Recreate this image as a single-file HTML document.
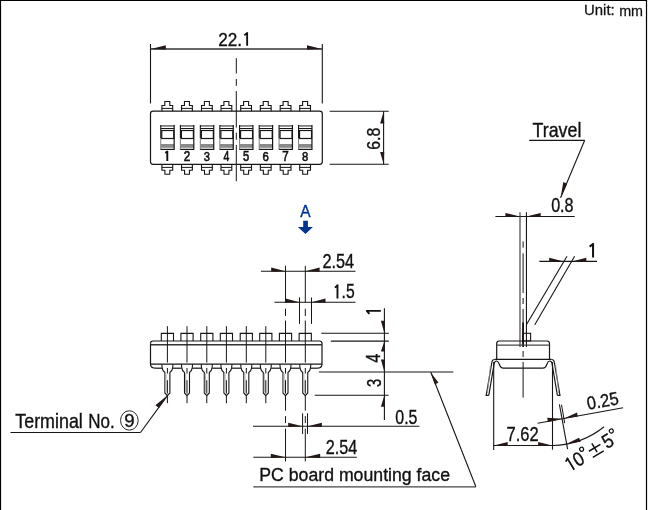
<!DOCTYPE html>
<html><head><meta charset="utf-8"><style>
html,body{margin:0;padding:0;background:#fff;}
svg{display:block;will-change:transform;}
text{font-family:"Liberation Sans",sans-serif;}
</style></head><body>
<svg width="649" height="510" viewBox="0 0 649 510">
<rect width="649" height="510" fill="#fff"/>
<line x1="0.00" y1="0.50" x2="647.00" y2="0.50" stroke="#000" stroke-width="1.2" />
<line x1="0.50" y1="0.00" x2="0.50" y2="510.00" stroke="#000" stroke-width="1.2" />
<line x1="646.50" y1="0.00" x2="646.50" y2="510.00" stroke="#000" stroke-width="1.2" />
<text transform="translate(584.08,15.46) scale(1.054,1)" font-size="14.15" fill="#111" stroke="#111" stroke-width="0.25">Unit:</text>
<text transform="translate(619.17,15.60) scale(1.006,1)" font-size="14.26" fill="#111" stroke="#111" stroke-width="0.25">mm</text>
<line x1="150.50" y1="44.00" x2="150.50" y2="103.50" stroke="#161616" stroke-width="1.1" />
<line x1="322.30" y1="44.00" x2="322.30" y2="103.50" stroke="#161616" stroke-width="1.1" />
<line x1="150.50" y1="49.00" x2="322.30" y2="49.00" stroke="#333" stroke-width="1.3" />
<polygon points="150.80,49.00 165.80,45.20 165.80,49.60" fill="#231815"/>
<polygon points="322.00,49.00 307.00,45.20 307.00,49.60" fill="#231815"/>
<text transform="translate(218.24,45.70) scale(0.896,1)" font-size="19.14" fill="#111" stroke="#111" stroke-width="0.35">2</text>
<text transform="translate(227.77,45.70) scale(0.896,1)" font-size="19.14" fill="#111" stroke="#111" stroke-width="0.35">2</text>
<text transform="translate(237.31,45.70) scale(0.896,1)" font-size="19.14" fill="#111" stroke="#111" stroke-width="0.35">.</text>
<path d="M247.15,45.70 V32.30 M247.70,32.67 L244.30,35.25" stroke="#111" stroke-width="1.842500000000001" fill="none"/>
<path d="M150.5,113.7 Q150.5,111.2 153,111.2 H319.8 Q322.3,111.2 322.3,113.7 V161.8 Q322.3,164.3 319.8,164.3 H153 Q150.5,164.3 150.5,161.8 Z" stroke="#161616" stroke-width="1.2" fill="none" />
<path d="M161.90,111.2 V105.5 H164.80 V101.5 H169.80 V105.5 H172.70 V111.2" stroke="#161616" stroke-width="1.1" fill="none" />
<line x1="161.90" y1="108.40" x2="172.70" y2="108.40" stroke="#161616" stroke-width="1.0" />
<path d="M161.90,164.3 V170.3 H164.90 V174.3 H169.80 V170.3 H172.70 V164.3" stroke="#161616" stroke-width="1.1" fill="none" />
<line x1="161.90" y1="167.40" x2="172.70" y2="167.40" stroke="#161616" stroke-width="1.0" />
<rect x="160.75" y="125.0" width="13.40" height="1.8" fill="#808080"/>
<rect x="160.75" y="144.0" width="13.40" height="3.8" fill="#8a8a8a"/>
<line x1="160.75" y1="125.00" x2="160.75" y2="138.00" stroke="#161616" stroke-width="1.1" />
<line x1="160.75" y1="138.00" x2="160.75" y2="150.00" stroke="#888" stroke-width="1.1" />
<line x1="174.15" y1="125.00" x2="174.15" y2="150.00" stroke="#161616" stroke-width="1.2" />
<line x1="160.75" y1="149.40" x2="174.15" y2="149.40" stroke="#161616" stroke-width="1.2" />
<line x1="160.75" y1="128.50" x2="174.15" y2="128.50" stroke="#161616" stroke-width="1.0" />
<rect x="161.75" y="130.5" width="12.0" height="8.0" fill="none" stroke="#161616" stroke-width="1.2"/>
<path d="M167.30,160.90 V150.90 M167.87,151.28 L165.30,152.90" stroke="#111" stroke-width="1.9" fill="none"/>
<path d="M181.55,111.2 V105.5 H184.45 V101.5 H189.45 V105.5 H192.35 V111.2" stroke="#161616" stroke-width="1.1" fill="none" />
<line x1="181.55" y1="108.40" x2="192.35" y2="108.40" stroke="#161616" stroke-width="1.0" />
<path d="M181.55,164.3 V170.3 H184.55 V174.3 H189.45 V170.3 H192.35 V164.3" stroke="#161616" stroke-width="1.1" fill="none" />
<line x1="181.55" y1="167.40" x2="192.35" y2="167.40" stroke="#161616" stroke-width="1.0" />
<rect x="180.40" y="125.0" width="13.40" height="1.8" fill="#808080"/>
<rect x="180.40" y="144.0" width="13.40" height="3.8" fill="#8a8a8a"/>
<line x1="180.40" y1="125.00" x2="180.40" y2="138.00" stroke="#161616" stroke-width="1.1" />
<line x1="180.40" y1="138.00" x2="180.40" y2="150.00" stroke="#888" stroke-width="1.1" />
<line x1="193.80" y1="125.00" x2="193.80" y2="150.00" stroke="#161616" stroke-width="1.2" />
<line x1="180.40" y1="149.40" x2="193.80" y2="149.40" stroke="#161616" stroke-width="1.2" />
<line x1="180.40" y1="128.50" x2="193.80" y2="128.50" stroke="#161616" stroke-width="1.0" />
<rect x="181.40" y="130.5" width="12.0" height="8.0" fill="none" stroke="#161616" stroke-width="1.2"/>
<text transform="translate(183.72,160.80) scale(0.841,1)" font-size="13.86" fill="#111" stroke="#111" stroke-width="0.6">2</text>
<path d="M201.50,111.2 V105.5 H204.40 V101.5 H209.40 V105.5 H212.30 V111.2" stroke="#161616" stroke-width="1.1" fill="none" />
<line x1="201.50" y1="108.40" x2="212.30" y2="108.40" stroke="#161616" stroke-width="1.0" />
<path d="M201.50,164.3 V170.3 H204.50 V174.3 H209.40 V170.3 H212.30 V164.3" stroke="#161616" stroke-width="1.1" fill="none" />
<line x1="201.50" y1="167.40" x2="212.30" y2="167.40" stroke="#161616" stroke-width="1.0" />
<rect x="200.35" y="125.0" width="13.40" height="1.8" fill="#808080"/>
<rect x="200.35" y="144.0" width="13.40" height="3.8" fill="#8a8a8a"/>
<line x1="200.35" y1="125.00" x2="200.35" y2="138.00" stroke="#161616" stroke-width="1.1" />
<line x1="200.35" y1="138.00" x2="200.35" y2="150.00" stroke="#888" stroke-width="1.1" />
<line x1="213.75" y1="125.00" x2="213.75" y2="150.00" stroke="#161616" stroke-width="1.2" />
<line x1="200.35" y1="149.40" x2="213.75" y2="149.40" stroke="#161616" stroke-width="1.2" />
<line x1="200.35" y1="128.50" x2="213.75" y2="128.50" stroke="#161616" stroke-width="1.0" />
<rect x="201.35" y="130.5" width="12.0" height="8.0" fill="none" stroke="#161616" stroke-width="1.2"/>
<text transform="translate(203.80,160.66) scale(0.817,1)" font-size="13.66" fill="#111" stroke="#111" stroke-width="0.6">3</text>
<path d="M221.00,111.2 V105.5 H223.90 V101.5 H228.90 V105.5 H231.80 V111.2" stroke="#161616" stroke-width="1.1" fill="none" />
<line x1="221.00" y1="108.40" x2="231.80" y2="108.40" stroke="#161616" stroke-width="1.0" />
<path d="M221.00,164.3 V170.3 H224.00 V174.3 H228.90 V170.3 H231.80 V164.3" stroke="#161616" stroke-width="1.1" fill="none" />
<line x1="221.00" y1="167.40" x2="231.80" y2="167.40" stroke="#161616" stroke-width="1.0" />
<rect x="219.85" y="125.0" width="13.40" height="1.8" fill="#808080"/>
<rect x="219.85" y="144.0" width="13.40" height="3.8" fill="#8a8a8a"/>
<line x1="219.85" y1="125.00" x2="219.85" y2="138.00" stroke="#161616" stroke-width="1.1" />
<line x1="219.85" y1="138.00" x2="219.85" y2="150.00" stroke="#888" stroke-width="1.1" />
<line x1="233.25" y1="125.00" x2="233.25" y2="150.00" stroke="#161616" stroke-width="1.2" />
<line x1="219.85" y1="149.40" x2="233.25" y2="149.40" stroke="#161616" stroke-width="1.2" />
<line x1="219.85" y1="128.50" x2="233.25" y2="128.50" stroke="#161616" stroke-width="1.0" />
<rect x="220.85" y="130.5" width="12.0" height="8.0" fill="none" stroke="#161616" stroke-width="1.2"/>
<text transform="translate(223.54,160.80) scale(0.747,1)" font-size="14.06" fill="#111" stroke="#111" stroke-width="0.6">4</text>
<path d="M240.70,111.2 V105.5 H243.60 V101.5 H248.60 V105.5 H251.50 V111.2" stroke="#161616" stroke-width="1.1" fill="none" />
<line x1="240.70" y1="108.40" x2="251.50" y2="108.40" stroke="#161616" stroke-width="1.0" />
<path d="M240.70,164.3 V170.3 H243.70 V174.3 H248.60 V170.3 H251.50 V164.3" stroke="#161616" stroke-width="1.1" fill="none" />
<line x1="240.70" y1="167.40" x2="251.50" y2="167.40" stroke="#161616" stroke-width="1.0" />
<rect x="239.55" y="125.0" width="13.40" height="1.8" fill="#808080"/>
<rect x="239.55" y="144.0" width="13.40" height="3.8" fill="#8a8a8a"/>
<line x1="239.55" y1="125.00" x2="239.55" y2="138.00" stroke="#161616" stroke-width="1.1" />
<line x1="239.55" y1="138.00" x2="239.55" y2="150.00" stroke="#888" stroke-width="1.1" />
<line x1="252.95" y1="125.00" x2="252.95" y2="150.00" stroke="#161616" stroke-width="1.2" />
<line x1="239.55" y1="149.40" x2="252.95" y2="149.40" stroke="#161616" stroke-width="1.2" />
<line x1="239.55" y1="128.50" x2="252.95" y2="128.50" stroke="#161616" stroke-width="1.0" />
<rect x="240.55" y="130.5" width="12.0" height="8.0" fill="none" stroke="#161616" stroke-width="1.2"/>
<text transform="translate(243.00,160.66) scale(0.805,1)" font-size="13.86" fill="#111" stroke="#111" stroke-width="0.6">5</text>
<path d="M260.35,111.2 V105.5 H263.25 V101.5 H268.25 V105.5 H271.15 V111.2" stroke="#161616" stroke-width="1.1" fill="none" />
<line x1="260.35" y1="108.40" x2="271.15" y2="108.40" stroke="#161616" stroke-width="1.0" />
<path d="M260.35,164.3 V170.3 H263.35 V174.3 H268.25 V170.3 H271.15 V164.3" stroke="#161616" stroke-width="1.1" fill="none" />
<line x1="260.35" y1="167.40" x2="271.15" y2="167.40" stroke="#161616" stroke-width="1.0" />
<rect x="259.20" y="125.0" width="13.40" height="1.8" fill="#808080"/>
<rect x="259.20" y="144.0" width="13.40" height="3.8" fill="#8a8a8a"/>
<line x1="259.20" y1="125.00" x2="259.20" y2="138.00" stroke="#161616" stroke-width="1.1" />
<line x1="259.20" y1="138.00" x2="259.20" y2="150.00" stroke="#888" stroke-width="1.1" />
<line x1="272.60" y1="125.00" x2="272.60" y2="150.00" stroke="#161616" stroke-width="1.2" />
<line x1="259.20" y1="149.40" x2="272.60" y2="149.40" stroke="#161616" stroke-width="1.2" />
<line x1="259.20" y1="128.50" x2="272.60" y2="128.50" stroke="#161616" stroke-width="1.0" />
<rect x="260.20" y="130.5" width="12.0" height="8.0" fill="none" stroke="#161616" stroke-width="1.2"/>
<text transform="translate(262.53,160.66) scale(0.834,1)" font-size="13.66" fill="#111" stroke="#111" stroke-width="0.6">6</text>
<path d="M280.20,111.2 V105.5 H283.10 V101.5 H288.10 V105.5 H291.00 V111.2" stroke="#161616" stroke-width="1.1" fill="none" />
<line x1="280.20" y1="108.40" x2="291.00" y2="108.40" stroke="#161616" stroke-width="1.0" />
<path d="M280.20,164.3 V170.3 H283.20 V174.3 H288.10 V170.3 H291.00 V164.3" stroke="#161616" stroke-width="1.1" fill="none" />
<line x1="280.20" y1="167.40" x2="291.00" y2="167.40" stroke="#161616" stroke-width="1.0" />
<rect x="279.05" y="125.0" width="13.40" height="1.8" fill="#808080"/>
<rect x="279.05" y="144.0" width="13.40" height="3.8" fill="#8a8a8a"/>
<line x1="279.05" y1="125.00" x2="279.05" y2="138.00" stroke="#161616" stroke-width="1.1" />
<line x1="279.05" y1="138.00" x2="279.05" y2="150.00" stroke="#888" stroke-width="1.1" />
<line x1="292.45" y1="125.00" x2="292.45" y2="150.00" stroke="#161616" stroke-width="1.2" />
<line x1="279.05" y1="149.40" x2="292.45" y2="149.40" stroke="#161616" stroke-width="1.2" />
<line x1="279.05" y1="128.50" x2="292.45" y2="128.50" stroke="#161616" stroke-width="1.0" />
<rect x="280.05" y="130.5" width="12.0" height="8.0" fill="none" stroke="#161616" stroke-width="1.2"/>
<text transform="translate(282.37,160.80) scale(0.829,1)" font-size="14.06" fill="#111" stroke="#111" stroke-width="0.6">7</text>
<path d="M299.70,111.2 V105.5 H302.60 V101.5 H307.60 V105.5 H310.50 V111.2" stroke="#161616" stroke-width="1.1" fill="none" />
<line x1="299.70" y1="108.40" x2="310.50" y2="108.40" stroke="#161616" stroke-width="1.0" />
<path d="M299.70,164.3 V170.3 H302.70 V174.3 H307.60 V170.3 H310.50 V164.3" stroke="#161616" stroke-width="1.1" fill="none" />
<line x1="299.70" y1="167.40" x2="310.50" y2="167.40" stroke="#161616" stroke-width="1.0" />
<rect x="298.55" y="125.0" width="13.40" height="1.8" fill="#808080"/>
<rect x="298.55" y="144.0" width="13.40" height="3.8" fill="#8a8a8a"/>
<line x1="298.55" y1="125.00" x2="298.55" y2="138.00" stroke="#161616" stroke-width="1.1" />
<line x1="298.55" y1="138.00" x2="298.55" y2="150.00" stroke="#888" stroke-width="1.1" />
<line x1="311.95" y1="125.00" x2="311.95" y2="150.00" stroke="#161616" stroke-width="1.2" />
<line x1="298.55" y1="149.40" x2="311.95" y2="149.40" stroke="#161616" stroke-width="1.2" />
<line x1="298.55" y1="128.50" x2="311.95" y2="128.50" stroke="#161616" stroke-width="1.0" />
<rect x="299.55" y="130.5" width="12.0" height="8.0" fill="none" stroke="#161616" stroke-width="1.2"/>
<text transform="translate(301.94,160.66) scale(0.825,1)" font-size="13.66" fill="#111" stroke="#111" stroke-width="0.6">8</text>
<line x1="236.30" y1="58.20" x2="236.30" y2="73.50" stroke="#161616" stroke-width="1.0" />
<line x1="236.30" y1="79.00" x2="236.30" y2="85.80" stroke="#161616" stroke-width="1.0" />
<line x1="236.30" y1="91.10" x2="236.30" y2="127.60" stroke="#161616" stroke-width="1.0" />
<line x1="236.30" y1="132.70" x2="236.30" y2="139.80" stroke="#161616" stroke-width="1.0" />
<line x1="236.30" y1="144.90" x2="236.30" y2="181.20" stroke="#161616" stroke-width="1.0" />
<line x1="329.70" y1="111.30" x2="388.70" y2="111.30" stroke="#161616" stroke-width="1.1" />
<line x1="329.70" y1="164.20" x2="388.70" y2="164.20" stroke="#161616" stroke-width="1.1" />
<line x1="383.60" y1="111.30" x2="383.60" y2="164.20" stroke="#161616" stroke-width="1.1" />
<polygon points="383.60,111.50 380.10,123.50 384.20,123.50" fill="#231815"/>
<polygon points="383.60,164.00 380.10,152.00 384.20,152.00" fill="#231815"/>
<text transform="rotate(-90,373.7,138.6) translate(362.50,145.11) scale(0.848,1)" font-size="18.87" fill="#111" stroke="#111" stroke-width="0.35">6.8</text>
<text transform="translate(300.20,216.60) scale(0.946,1)" font-size="16.38" fill="#003494" stroke="#003494" stroke-width="0.35">A</text>
<polygon points="303.20,220.80 307.90,220.80 307.90,227.00 312.90,227.00 305.50,233.90 297.90,227.00 303.20,227.00" fill="#003494"/>
<path d="M150.5,343.5 Q150.5,341 153,341 H319.5 Q322,341 322,343.5 V364.2 Q322,368.2 317,368.2" stroke="#161616" stroke-width="1.2" fill="none" />
<path d="M150.5,343.5 V364.2 Q150.5,368.2 156,368.2" stroke="#161616" stroke-width="1.2" fill="none" />
<line x1="150.50" y1="344.70" x2="322.00" y2="344.70" stroke="#333" stroke-width="1.4" />
<path d="M161.30,341 V333.4 H173.50 V341" stroke="#161616" stroke-width="1.1" fill="none" />
<path d="M161.80,364.2 L162.20,368.2 Q162.70,371.4 164.90,372.6 V393.0 L167.40,395.6 L169.90,393.0 V372.6 Q172.10,371.4 172.60,368.2 L173.00,364.2" stroke="#161616" stroke-width="1.1" fill="#fff" />
<line x1="166.00" y1="373.50" x2="166.00" y2="392.50" stroke="#b8b8b8" stroke-width="1.2" />
<line x1="167.40" y1="326.20" x2="167.40" y2="362.60" stroke="#161616" stroke-width="1.0" />
<line x1="167.40" y1="368.00" x2="167.40" y2="373.50" stroke="#161616" stroke-width="1.0" />
<line x1="167.40" y1="380.20" x2="167.40" y2="393.50" stroke="#161616" stroke-width="1.0" />
<line x1="167.40" y1="396.00" x2="167.40" y2="403.20" stroke="#161616" stroke-width="1.0" />
<path d="M180.90,341 V333.4 H193.10 V341" stroke="#161616" stroke-width="1.1" fill="none" />
<path d="M181.40,364.2 L181.80,368.2 Q182.30,371.4 184.50,372.6 V393.0 L187.00,395.6 L189.50,393.0 V372.6 Q191.70,371.4 192.20,368.2 L192.60,364.2" stroke="#161616" stroke-width="1.1" fill="#fff" />
<line x1="185.60" y1="373.50" x2="185.60" y2="392.50" stroke="#b8b8b8" stroke-width="1.2" />
<line x1="187.00" y1="326.20" x2="187.00" y2="362.60" stroke="#161616" stroke-width="1.0" />
<line x1="187.00" y1="368.00" x2="187.00" y2="373.50" stroke="#161616" stroke-width="1.0" />
<line x1="187.00" y1="380.20" x2="187.00" y2="393.50" stroke="#161616" stroke-width="1.0" />
<line x1="187.00" y1="396.00" x2="187.00" y2="403.20" stroke="#161616" stroke-width="1.0" />
<path d="M200.70,341 V333.4 H212.90 V341" stroke="#161616" stroke-width="1.1" fill="none" />
<path d="M201.20,364.2 L201.60,368.2 Q202.10,371.4 204.30,372.6 V393.0 L206.80,395.6 L209.30,393.0 V372.6 Q211.50,371.4 212.00,368.2 L212.40,364.2" stroke="#161616" stroke-width="1.1" fill="#fff" />
<line x1="205.40" y1="373.50" x2="205.40" y2="392.50" stroke="#b8b8b8" stroke-width="1.2" />
<line x1="206.80" y1="326.20" x2="206.80" y2="362.60" stroke="#161616" stroke-width="1.0" />
<line x1="206.80" y1="368.00" x2="206.80" y2="373.50" stroke="#161616" stroke-width="1.0" />
<line x1="206.80" y1="380.20" x2="206.80" y2="393.50" stroke="#161616" stroke-width="1.0" />
<line x1="206.80" y1="396.00" x2="206.80" y2="403.20" stroke="#161616" stroke-width="1.0" />
<path d="M220.30,341 V333.4 H232.50 V341" stroke="#161616" stroke-width="1.1" fill="none" />
<path d="M220.80,364.2 L221.20,368.2 Q221.70,371.4 223.90,372.6 V393.0 L226.40,395.6 L228.90,393.0 V372.6 Q231.10,371.4 231.60,368.2 L232.00,364.2" stroke="#161616" stroke-width="1.1" fill="#fff" />
<line x1="225.00" y1="373.50" x2="225.00" y2="392.50" stroke="#b8b8b8" stroke-width="1.2" />
<line x1="226.40" y1="326.20" x2="226.40" y2="362.60" stroke="#161616" stroke-width="1.0" />
<line x1="226.40" y1="368.00" x2="226.40" y2="373.50" stroke="#161616" stroke-width="1.0" />
<line x1="226.40" y1="380.20" x2="226.40" y2="393.50" stroke="#161616" stroke-width="1.0" />
<line x1="226.40" y1="396.00" x2="226.40" y2="403.20" stroke="#161616" stroke-width="1.0" />
<path d="M240.20,341 V333.4 H252.40 V341" stroke="#161616" stroke-width="1.1" fill="none" />
<path d="M240.70,364.2 L241.10,368.2 Q241.60,371.4 243.80,372.6 V393.0 L246.30,395.6 L248.80,393.0 V372.6 Q251.00,371.4 251.50,368.2 L251.90,364.2" stroke="#161616" stroke-width="1.1" fill="#fff" />
<line x1="244.90" y1="373.50" x2="244.90" y2="392.50" stroke="#b8b8b8" stroke-width="1.2" />
<line x1="246.30" y1="326.20" x2="246.30" y2="362.60" stroke="#161616" stroke-width="1.0" />
<line x1="246.30" y1="368.00" x2="246.30" y2="373.50" stroke="#161616" stroke-width="1.0" />
<line x1="246.30" y1="380.20" x2="246.30" y2="393.50" stroke="#161616" stroke-width="1.0" />
<line x1="246.30" y1="396.00" x2="246.30" y2="403.20" stroke="#161616" stroke-width="1.0" />
<path d="M259.70,341 V333.4 H271.90 V341" stroke="#161616" stroke-width="1.1" fill="none" />
<path d="M260.20,364.2 L260.60,368.2 Q261.10,371.4 263.30,372.6 V393.0 L265.80,395.6 L268.30,393.0 V372.6 Q270.50,371.4 271.00,368.2 L271.40,364.2" stroke="#161616" stroke-width="1.1" fill="#fff" />
<line x1="264.40" y1="373.50" x2="264.40" y2="392.50" stroke="#b8b8b8" stroke-width="1.2" />
<line x1="265.80" y1="326.20" x2="265.80" y2="362.60" stroke="#161616" stroke-width="1.0" />
<line x1="265.80" y1="368.00" x2="265.80" y2="373.50" stroke="#161616" stroke-width="1.0" />
<line x1="265.80" y1="380.20" x2="265.80" y2="393.50" stroke="#161616" stroke-width="1.0" />
<line x1="265.80" y1="396.00" x2="265.80" y2="403.20" stroke="#161616" stroke-width="1.0" />
<path d="M279.40,341 V333.4 H291.60 V341" stroke="#161616" stroke-width="1.1" fill="none" />
<path d="M279.90,364.2 L280.30,368.2 Q280.80,371.4 283.00,372.6 V393.0 L285.50,395.6 L288.00,393.0 V372.6 Q290.20,371.4 290.70,368.2 L291.10,364.2" stroke="#161616" stroke-width="1.1" fill="#fff" />
<line x1="284.10" y1="373.50" x2="284.10" y2="392.50" stroke="#b8b8b8" stroke-width="1.2" />
<path d="M299.15,341 V333.4 H311.35 V341" stroke="#161616" stroke-width="1.1" fill="none" />
<path d="M299.65,364.2 L300.05,368.2 Q300.55,371.4 302.75,372.6 V393.0 L305.25,395.6 L307.75,393.0 V372.6 Q309.95,371.4 310.45,368.2 L310.85,364.2" stroke="#161616" stroke-width="1.1" fill="#fff" />
<line x1="303.85" y1="373.50" x2="303.85" y2="392.50" stroke="#b8b8b8" stroke-width="1.2" />
<line x1="172.80" y1="368.20" x2="181.60" y2="368.20" stroke="#161616" stroke-width="1.2" />
<line x1="192.40" y1="368.20" x2="201.40" y2="368.20" stroke="#161616" stroke-width="1.2" />
<line x1="212.20" y1="368.20" x2="221.00" y2="368.20" stroke="#161616" stroke-width="1.2" />
<line x1="231.80" y1="368.20" x2="240.90" y2="368.20" stroke="#161616" stroke-width="1.2" />
<line x1="251.70" y1="368.20" x2="260.40" y2="368.20" stroke="#161616" stroke-width="1.2" />
<line x1="271.20" y1="368.20" x2="280.10" y2="368.20" stroke="#161616" stroke-width="1.2" />
<line x1="290.90" y1="368.20" x2="299.85" y2="368.20" stroke="#161616" stroke-width="1.2" />
<line x1="156.00" y1="368.20" x2="162.00" y2="368.20" stroke="#161616" stroke-width="1.2" />
<line x1="310.65" y1="368.20" x2="317.00" y2="368.20" stroke="#161616" stroke-width="1.2" />
<line x1="150.50" y1="364.20" x2="322.00" y2="364.20" stroke="#161616" stroke-width="1.2" />
<line x1="285.50" y1="265.80" x2="285.50" y2="302.60" stroke="#161616" stroke-width="1.0" />
<line x1="285.50" y1="308.70" x2="285.50" y2="316.10" stroke="#161616" stroke-width="1.0" />
<line x1="285.50" y1="320.50" x2="285.50" y2="362.60" stroke="#161616" stroke-width="1.0" />
<line x1="285.50" y1="368.00" x2="285.50" y2="373.50" stroke="#161616" stroke-width="1.0" />
<line x1="285.50" y1="380.20" x2="285.50" y2="393.50" stroke="#161616" stroke-width="1.0" />
<line x1="285.50" y1="396.00" x2="285.50" y2="410.60" stroke="#161616" stroke-width="1.0" />
<line x1="285.50" y1="416.10" x2="285.50" y2="423.10" stroke="#161616" stroke-width="1.0" />
<line x1="285.50" y1="428.60" x2="285.50" y2="461.40" stroke="#161616" stroke-width="1.0" />
<line x1="305.30" y1="265.80" x2="305.30" y2="302.60" stroke="#161616" stroke-width="1.0" />
<line x1="305.30" y1="308.70" x2="305.30" y2="316.10" stroke="#161616" stroke-width="1.0" />
<line x1="305.30" y1="320.50" x2="305.30" y2="362.60" stroke="#161616" stroke-width="1.0" />
<line x1="305.30" y1="368.00" x2="305.30" y2="373.50" stroke="#161616" stroke-width="1.0" />
<line x1="305.30" y1="380.20" x2="305.30" y2="393.50" stroke="#161616" stroke-width="1.0" />
<line x1="305.30" y1="396.00" x2="305.30" y2="410.60" stroke="#161616" stroke-width="1.0" />
<line x1="305.30" y1="416.10" x2="305.30" y2="423.10" stroke="#161616" stroke-width="1.0" />
<line x1="305.30" y1="428.60" x2="305.30" y2="461.40" stroke="#161616" stroke-width="1.0" />
<line x1="260.90" y1="271.20" x2="355.50" y2="271.20" stroke="#161616" stroke-width="1.1" />
<polygon points="285.50,271.20 271.20,267.60 271.20,271.80" fill="#231815"/>
<polygon points="305.30,271.20 319.60,267.60 319.60,271.80" fill="#231815"/>
<text transform="translate(322.38,267.70) scale(0.827,1)" font-size="19.72" fill="#111" stroke="#111" stroke-width="0.35">2.54</text>
<line x1="274.40" y1="302.20" x2="355.50" y2="302.20" stroke="#161616" stroke-width="1.1" />
<line x1="299.50" y1="297.50" x2="299.50" y2="323.90" stroke="#161616" stroke-width="1.0" />
<line x1="311.50" y1="297.50" x2="311.50" y2="323.90" stroke="#161616" stroke-width="1.0" />
<polygon points="299.50,302.20 285.50,298.60 285.50,302.80" fill="#231815"/>
<polygon points="311.50,302.20 325.50,298.60 325.50,302.80" fill="#231815"/>
<path d="M337.46,298.40 V284.60 M338.03,284.98 L334.90,287.64" stroke="#111" stroke-width="1.897499999999994" fill="none"/>
<text transform="translate(341.54,298.40) scale(0.797,1)" font-size="19.71" fill="#111" stroke="#111" stroke-width="0.35">.</text>
<text transform="translate(345.91,298.40) scale(0.797,1)" font-size="19.71" fill="#111" stroke="#111" stroke-width="0.35">5</text>
<line x1="384.40" y1="308.20" x2="384.40" y2="420.00" stroke="#161616" stroke-width="1.1" />
<line x1="321.20" y1="333.30" x2="388.80" y2="333.30" stroke="#161616" stroke-width="1.1" />
<line x1="330.80" y1="341.10" x2="388.80" y2="341.10" stroke="#161616" stroke-width="1.1" />
<line x1="318.80" y1="372.00" x2="453.30" y2="372.00" stroke="#161616" stroke-width="1.1" />
<line x1="314.70" y1="395.30" x2="388.60" y2="395.30" stroke="#161616" stroke-width="1.1" />
<polygon points="384.40,333.30 380.90,320.80 385.00,320.80" fill="#231815"/>
<polygon points="384.40,341.10 380.90,351.60 385.00,351.60" fill="#231815"/>
<polygon points="384.40,372.00 380.90,359.50 385.00,359.50" fill="#231815"/>
<polygon points="384.40,395.30 380.90,406.80 385.00,406.80" fill="#231815"/>
<path d="M374.95,319.75 V305.05 M375.52,305.43 L372.05,308.35" stroke="#111" stroke-width="1.9" fill="none" transform="rotate(-90,373.45,312.4)"/>
<text transform="rotate(-90,373.65,358.35) translate(369.17,365.10) scale(0.840,1)" font-size="19.57" fill="#111" stroke="#111" stroke-width="0.35">4</text>
<text transform="rotate(-90,373.65,383.0) translate(369.56,389.95) scale(0.732,1)" font-size="20.14" fill="#111" stroke="#111" stroke-width="0.35">3</text>
<line x1="253.00" y1="426.30" x2="419.40" y2="426.30" stroke="#161616" stroke-width="1.1" />
<line x1="302.60" y1="413.30" x2="302.60" y2="434.00" stroke="#161616" stroke-width="1.0" />
<line x1="307.50" y1="413.30" x2="307.50" y2="434.00" stroke="#161616" stroke-width="1.0" />
<polygon points="302.60,426.30 288.20,422.70 288.20,426.90" fill="#231815"/>
<polygon points="307.50,426.30 321.90,422.70 321.90,426.90" fill="#231815"/>
<text transform="translate(395.26,424.40) scale(0.809,1)" font-size="19.72" fill="#111" stroke="#111" stroke-width="0.35">0.5</text>
<line x1="253.30" y1="457.30" x2="356.80" y2="457.30" stroke="#161616" stroke-width="1.1" />
<polygon points="285.50,457.30 270.80,453.70 270.80,457.90" fill="#231815"/>
<polygon points="305.30,457.30 320.20,453.70 320.20,457.90" fill="#231815"/>
<text transform="translate(325.79,453.60) scale(0.812,1)" font-size="20.00" fill="#111" stroke="#111" stroke-width="0.35">2.54</text>
<text transform="translate(259.28,481.20) scale(0.936,1)" font-size="18.90" fill="#111" stroke="#111" stroke-width="0.35">PC board mounting face</text>
<line x1="253.30" y1="486.80" x2="475.90" y2="486.80" stroke="#444" stroke-width="1.3" />
<line x1="475.90" y1="486.80" x2="430.80" y2="372.20" stroke="#161616" stroke-width="1.1" />
<polygon points="430.80,372.40 438.53,382.79 434.81,384.25" fill="#231815"/>
<text transform="translate(15.24,427.70) scale(0.907,1)" font-size="19.73" fill="#111" stroke="#111" stroke-width="0.35">Terminal</text>
<text transform="translate(88.24,427.70) scale(0.831,1)" font-size="20.43" fill="#111" stroke="#111" stroke-width="0.35">No.</text>
<ellipse cx="129.35" cy="420.45" rx="8.8" ry="9.7" fill="none" stroke="#111" stroke-width="0.9"/>
<text transform="translate(124.16,426.71) scale(0.991,1)" font-size="18.87" fill="#111" stroke="#111" stroke-width="0.35">9</text>
<line x1="10.50" y1="432.50" x2="140.50" y2="432.50" stroke="#161616" stroke-width="1.2" />
<line x1="140.50" y1="432.50" x2="167.40" y2="395.60" stroke="#161616" stroke-width="1.1" />
<polygon points="167.30,395.40 155.36,405.28 159.00,407.91" fill="#231815"/>
<text transform="translate(532.54,136.70) scale(0.891,1)" font-size="20.00" fill="#111" stroke="#111" stroke-width="0.35">Travel</text>
<line x1="529.20" y1="140.30" x2="584.70" y2="140.30" stroke="#161616" stroke-width="1.2" />
<line x1="584.70" y1="140.30" x2="560.60" y2="197.70" stroke="#161616" stroke-width="1.1" />
<polygon points="560.60,197.70 563.28,182.01 567.15,183.64" fill="#231815"/>
<text transform="translate(551.16,212.21) scale(0.835,1)" font-size="19.30" fill="#111" stroke="#111" stroke-width="0.35">0.8</text>
<line x1="495.40" y1="216.50" x2="574.70" y2="216.50" stroke="#161616" stroke-width="1.1" />
<line x1="520.00" y1="212.20" x2="520.00" y2="347.00" stroke="#444" stroke-width="1.2" />
<line x1="526.45" y1="212.20" x2="526.45" y2="347.00" stroke="#161616" stroke-width="1.1" />
<polygon points="519.90,216.50 505.40,212.90 505.40,217.10" fill="#231815"/>
<polygon points="526.20,216.50 540.70,212.90 540.70,217.10" fill="#231815"/>
<line x1="523.10" y1="241.40" x2="523.10" y2="247.70" stroke="#161616" stroke-width="1.0" />
<line x1="523.10" y1="253.30" x2="523.10" y2="293.00" stroke="#161616" stroke-width="1.0" />
<line x1="523.10" y1="298.00" x2="523.10" y2="304.00" stroke="#161616" stroke-width="1.0" />
<line x1="523.10" y1="309.00" x2="523.10" y2="346.00" stroke="#161616" stroke-width="1.0" />
<line x1="523.10" y1="351.00" x2="523.10" y2="357.00" stroke="#161616" stroke-width="1.0" />
<line x1="523.10" y1="362.00" x2="523.10" y2="397.60" stroke="#161616" stroke-width="1.0" />
<line x1="523.10" y1="322.50" x2="523.10" y2="347.00" stroke="#161616" stroke-width="1.8" />
<line x1="567.00" y1="256.30" x2="526.50" y2="324.50" stroke="#161616" stroke-width="1.1" />
<line x1="574.60" y1="256.30" x2="534.80" y2="324.80" stroke="#161616" stroke-width="1.1" />
<line x1="539.30" y1="261.40" x2="597.00" y2="261.40" stroke="#161616" stroke-width="1.1" />
<polygon points="564.00,261.40 549.20,257.70 549.20,262.00" fill="#231815"/>
<polygon points="571.80,261.40 586.30,257.70 586.30,262.00" fill="#231815"/>
<path d="M593.05,257.60 V243.20 M593.65,243.60 L589.60,246.60" stroke="#111" stroke-width="2.0" fill="none"/>
<rect x="522.6" y="333.3" width="8.0" height="7.6" fill="none" stroke="#231815" stroke-width="1.1"/>
<path d="M496.7,359.45 V343.5 Q496.7,341 499.2,341 H547.0 Q549.5,341 549.5,343.5 V359.45" stroke="#161616" stroke-width="1.2" fill="none" />
<line x1="496.70" y1="345.10" x2="549.50" y2="345.10" stroke="#444" stroke-width="1.2" />
<line x1="494.50" y1="359.45" x2="551.70" y2="359.45" stroke="#161616" stroke-width="1.2" />
<path d="M488.8,395.3 L494.3,363.0 Q494.9,360.9 496.6,361.0 Q498.2,361.2 499.3,364.2 Q500.6,368.1 503.3,368.1 H542.9 Q545.6,368.1 546.9,364.2 Q548.0,361.2 549.6,361.0 Q551.3,360.9 551.9,363.0 L557.4,395.3" stroke="#161616" stroke-width="1.15" fill="none" />
<path d="M488.8,395.3 H486.2 L491.9,362.2 Q492.3,359.45 494.5,359.45" stroke="#161616" stroke-width="1.15" fill="none" />
<path d="M557.4,395.3 H560 L554.3,362.2 Q553.9,359.45 551.7,359.45" stroke="#161616" stroke-width="1.15" fill="none" />
<line x1="490.40" y1="366.00" x2="487.50" y2="393.00" stroke="#999" stroke-width="0.8" />
<line x1="555.80" y1="366.00" x2="558.70" y2="393.00" stroke="#999" stroke-width="0.8" />
<line x1="493.70" y1="362.00" x2="493.70" y2="450.10" stroke="#161616" stroke-width="1.1" />
<line x1="552.50" y1="362.00" x2="552.50" y2="449.70" stroke="#161616" stroke-width="1.1" />
<line x1="493.70" y1="445.50" x2="552.50" y2="445.50" stroke="#161616" stroke-width="1.1" />
<polygon points="493.90,445.50 507.70,441.90 507.70,446.10" fill="#231815"/>
<polygon points="552.30,445.50 538.10,441.90 538.10,446.10" fill="#231815"/>
<text transform="translate(506.58,441.30) scale(0.836,1)" font-size="19.72" fill="#111" stroke="#111" stroke-width="0.35">7.62</text>
<path d="M552.5,445.5 A85.5,85.5 0 0 0 604.1,426.7" stroke="#161616" stroke-width="1.1" fill="none" />
<line x1="559.40" y1="404.40" x2="567.60" y2="449.10" stroke="#161616" stroke-width="1.1" />
<line x1="561.50" y1="404.60" x2="564.70" y2="423.20" stroke="#161616" stroke-width="1.0" />
<polygon points="566.40,443.90 580.68,441.63 579.00,437.77" fill="#231815"/>
<line x1="537.60" y1="423.20" x2="623.10" y2="407.80" stroke="#161616" stroke-width="1.1" />
<polygon points="562.10,418.80 547.19,417.83 547.94,421.96" fill="#231815"/>
<polygon points="563.90,418.50 577.04,412.48 577.78,416.61" fill="#231815"/>
<text transform="rotate(-10,602.7,400.8) translate(586.69,407.12) scale(0.899,1)" font-size="18.31" fill="#111" stroke="#111" stroke-width="0.35">0.25</text>
<g transform="translate(570.65,463.85) rotate(-31)">
<path d="M0.00,6.95 V-6.95 M0.54,-6.59 L-3.00,-4.40" stroke="#111" stroke-width="1.8" fill="none"/>
<text transform="translate(4.38,6.55) scale(0.894,1)" font-size="19.58" fill="#111" stroke="#111" stroke-width="0.35">0</text>
<circle cx="16.9" cy="-6.8" r="2.0" fill="none" stroke="#111" stroke-width="1.2"/>
<line x1="22.10" y1="-1.40" x2="35.50" y2="-1.40" stroke="#111" stroke-width="1.5" />
<line x1="28.70" y1="-6.60" x2="28.70" y2="3.60" stroke="#111" stroke-width="1.5" />
<line x1="22.40" y1="5.90" x2="35.00" y2="5.90" stroke="#111" stroke-width="1.5" />
<text transform="translate(38.79,6.15) scale(0.891,1)" font-size="19.86" fill="#111" stroke="#111" stroke-width="0.35">5</text>
<circle cx="51.8" cy="-7.2" r="2.0" fill="none" stroke="#111" stroke-width="1.2"/>
</g>
</svg>
</body></html>
